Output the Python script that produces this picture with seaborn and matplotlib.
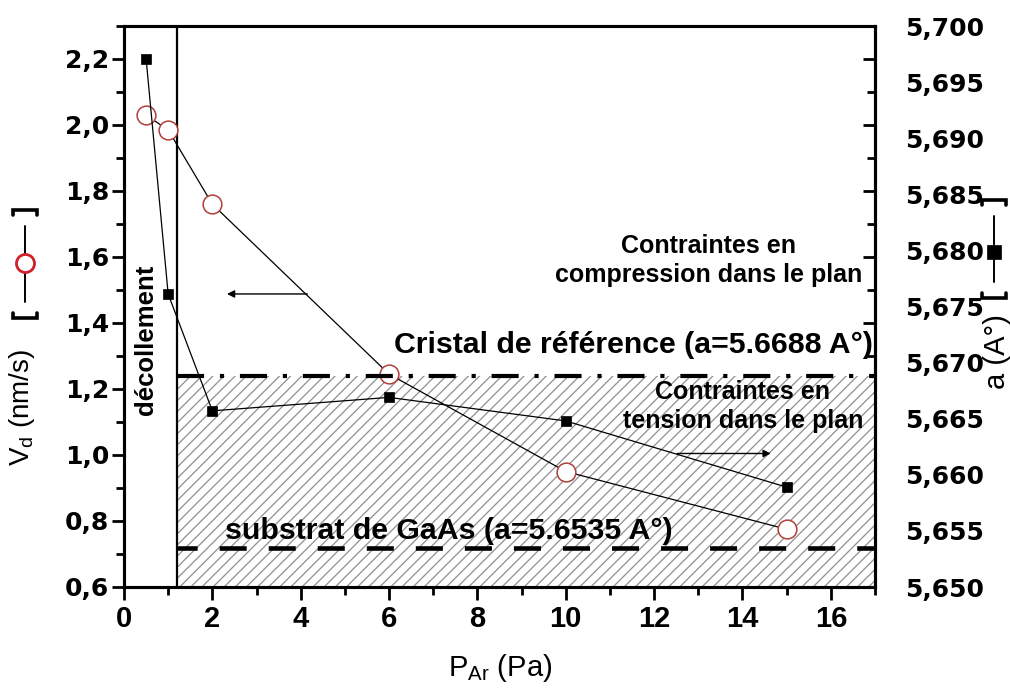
import matplotlib
matplotlib.use("Agg")
import matplotlib.pyplot as plt
import matplotlib.transforms as mtransforms
from matplotlib.lines import Line2D
from matplotlib.patches import Rectangle
from matplotlib.ticker import MultipleLocator, FixedLocator, FuncFormatter, NullFormatter
import seaborn as sns

# ---- data -------------------------------------------------------------
pressure = [0.5, 1, 2, 6, 10, 15]                                  # P_Ar (Pa)
growth_rate = [2.03, 1.985, 1.76, 1.245, 0.95, 0.775]              # V_d (nm/s)
lattice_param = [5.6971, 5.6761, 5.6657, 5.6669, 5.6648, 5.6589]   # a (A°)

a_reference = 5.6688      # bulk reference crystal
a_substrate = 5.6535      # GaAs substrate
peeling_limit = 1.2       # below this pressure the film peels off

x_ticks = [0, 2, 4, 6, 8, 10, 12, 14, 16]
left_ticks = [0.6, 0.8, 1.0, 1.2, 1.4, 1.6, 1.8, 2.0, 2.2]
right_ticks = [5.650, 5.655, 5.660, 5.665, 5.670, 5.675, 5.680, 5.685, 5.690, 5.695, 5.700]

label_reference = "Cristal de référence (a=5.6688 A°)"
label_substrate = "substrat de GaAs (a=5.6535 A°)"
label_compression = "Contraintes en\ncompression dans le plan"
label_tension = "Contraintes en\ntension dans le plan"
label_peeling = "décollement"

# ---- style ------------------------------------------------------------
sns.set_style("ticks")
plt.rcParams["font.family"] = ["Liberation Sans", "DejaVu Sans"]
plt.rcParams["hatch.linewidth"] = 0.9
for key in ("text.color", "axes.labelcolor", "xtick.color", "ytick.color", "axes.edgecolor"):
    plt.rcParams[key] = "black"

WIDE = ["DejaVu Sans"]

W, H = 1010, 691
fig = plt.figure(figsize=(W / 100, H / 100), dpi=100)
fig.patch.set_facecolor("white")

def fx(px):
    return px / W

def fy(py):
    return 1 - py / H

ax = fig.add_axes([fx(124), fy(587), fx(875) - fx(124), fy(26) - fy(587)])
ax.set_facecolor("white")
ax.set_xlim(0, 17)
ax.set_ylim(0.6, 2.3)
ax2 = ax.twinx()
ax2.set_ylim(5.650, 5.700)

# hatched region: film in tension, under the reference lattice parameter
blend = mtransforms.blended_transform_factory(ax.transData, ax2.transData)
ax.add_patch(Rectangle((peeling_limit, 5.650), 17 - peeling_limit, a_reference - 5.650,
                       transform=blend, facecolor="white", edgecolor="#8f8f8f",
                       hatch="///", linewidth=0, zorder=0.5))

# peeled-off zone boundary
ax.axvline(peeling_limit, color="black", lw=1.6, zorder=1)

# deposition rate (left axis)
sns.lineplot(x=pressure, y=growth_rate, ax=ax, color="black", lw=0.9,
             marker="o", markersize=13.5, markerfacecolor="white",
             markeredgecolor="#b0403a", markeredgewidth=1.1,
             estimator=None, sort=False, zorder=3)

# lattice parameter (right axis)
sns.lineplot(x=pressure, y=lattice_param, ax=ax2, color="black", lw=0.9,
             marker="s", markersize=7.5, markerfacecolor="black",
             markeredgecolor="black", markeredgewidth=0.5,
             estimator=None, sort=False, zorder=3)

# reference lattice parameters
ax2.plot([peeling_limit, 17], [a_reference, a_reference], color="black", lw=3.0,
         linestyle=(0, (6.5, 3.8, 1.0, 3.8)), dash_capstyle="butt", zorder=2)
ax2.plot([peeling_limit, 17], [a_substrate, a_substrate], color="black", lw=3.3,
         linestyle=(1.5, (5.9, 4.8)), dash_capstyle="butt", zorder=2)

ax2.text(16.96, 5.6709, label_reference, ha="right", va="baseline",
         fontsize=21.8, fontweight="bold", zorder=4)
ax2.text(2.29, 5.6543, label_substrate, ha="left", va="baseline",
         fontsize=21.8, fontweight="bold", zorder=4)
ax2.text(13.24, 5.6791, label_compression, ha="center", va="center",
         fontsize=18, fontweight="bold", linespacing=1.25, zorder=4)
ax2.text(14.01, 5.6661, label_tension, ha="center", va="center",
         fontsize=18, fontweight="bold", linespacing=1.25, zorder=4)
ax.text(0.5, 1.35, label_peeling, rotation=90, ha="center", va="center",
        fontsize=18.5, fontweight="bold", zorder=4)

arrow = dict(arrowstyle="-|>", color="black", lw=1.0, mutation_scale=11,
             shrinkA=0, shrinkB=0)
ax.annotate("", xy=(2.33, 1.488), xytext=(4.15, 1.488), arrowprops=arrow, zorder=4)
ax2.annotate("", xy=(14.64, 5.6619), xytext=(12.52, 5.6619), arrowprops=arrow, zorder=4)

# ---- axes, ticks ------------------------------------------------------
for a_ in (ax, ax2):
    for s in a_.spines.values():
        s.set_linewidth(2.2)
        s.set_color("black")
        s.set_visible(True)

ax.xaxis.set_major_locator(FixedLocator(x_ticks))
ax.xaxis.set_minor_locator(MultipleLocator(1))
ax.yaxis.set_major_locator(FixedLocator(left_ticks))
ax.yaxis.set_minor_locator(MultipleLocator(0.1))
ax.yaxis.set_major_formatter(FuncFormatter(lambda v, p: f"{v:.1f}".replace(".", ",")))
ax.tick_params(axis="x", which="major", direction="out", length=9, width=2, pad=4,
               labelsize=21)
ax.tick_params(axis="x", which="minor", direction="out", length=6, width=2)
ax.tick_params(axis="y", which="major", direction="out", length=9, width=2, pad=1.5,
               labelsize=18)
ax.tick_params(axis="y", which="minor", direction="out", length=6, width=2)
for t in ax.get_xticklabels():
    t.set_fontweight("bold")
for t in ax.get_yticklabels():
    t.set_family(WIDE)
    t.set_fontweight("bold")

ax2.yaxis.set_major_locator(FixedLocator(right_ticks))
ax2.yaxis.set_major_formatter(FuncFormatter(lambda v, p: f"{v:.3f}".replace(".", ",")))
ax2.tick_params(axis="y", which="both", length=0, pad=22, labelsize=18)
for t in ax2.get_yticklabels():
    t.set_family(WIDE)
    t.set_fontweight("bold")

# left-axis ticks mirrored inward on the right spine
mirror = ax.secondary_yaxis("right")
mirror.yaxis.set_major_locator(FixedLocator(left_ticks))
mirror.yaxis.set_minor_locator(MultipleLocator(0.1))
mirror.yaxis.set_major_formatter(NullFormatter())
mirror.tick_params(axis="y", which="major", direction="in", length=9, width=2)
mirror.tick_params(axis="y", which="minor", direction="in", length=6, width=2)
mirror.spines["right"].set_linewidth(2.2)

ax.set_xlabel("")
ax.set_ylabel("")
ax2.set_ylabel("")

# ---- axis titles with series keys ------------------------------------
fig.text(fx(500), fy(668), r"P$_{\mathregular{Ar}}$ (Pa)", ha="center", va="center",
         fontsize=21)
fig.text(fx(22), fy(407), r"V$_{\mathregular{d}}$ (nm/s)", rotation=90, ha="center",
         va="center", fontsize=20)
fig.text(fx(997), fy(352), "a (A°)", rotation=90, ha="center", va="center", fontsize=21)

def series_key(xc, y_top, y_bot, y_mark, marker, ms, mfc, mec, mew):
    half = 12
    tick = 5
    for yb, d in ((y_top, 1), (y_bot, -1)):
        fig.add_artist(Line2D([fx(xc - half), fx(xc - half), fx(xc + half), fx(xc + half)],
                              [fy(yb + d * tick), fy(yb), fy(yb), fy(yb + d * tick)],
                              color="black", lw=2.6, solid_joinstyle="miter"))
    fig.add_artist(Line2D([fx(xc), fx(xc)], [fy(y_top + 16), fy(y_bot - 16)],
                          color="black", lw=1.4))
    fig.add_artist(Line2D([fx(xc)], [fy(y_mark)], marker=marker, markersize=ms,
                          markerfacecolor=mfc, markeredgecolor=mec,
                          markeredgewidth=mew, linestyle="none"))

series_key(25, 210, 318, 263, "o", 13, "white", "#d0202a", 2.0)
series_key(994, 200, 298, 252, "s", 10.5, "black", "black", 0.5)

fig.savefig("out.png", dpi=100, facecolor="white")
